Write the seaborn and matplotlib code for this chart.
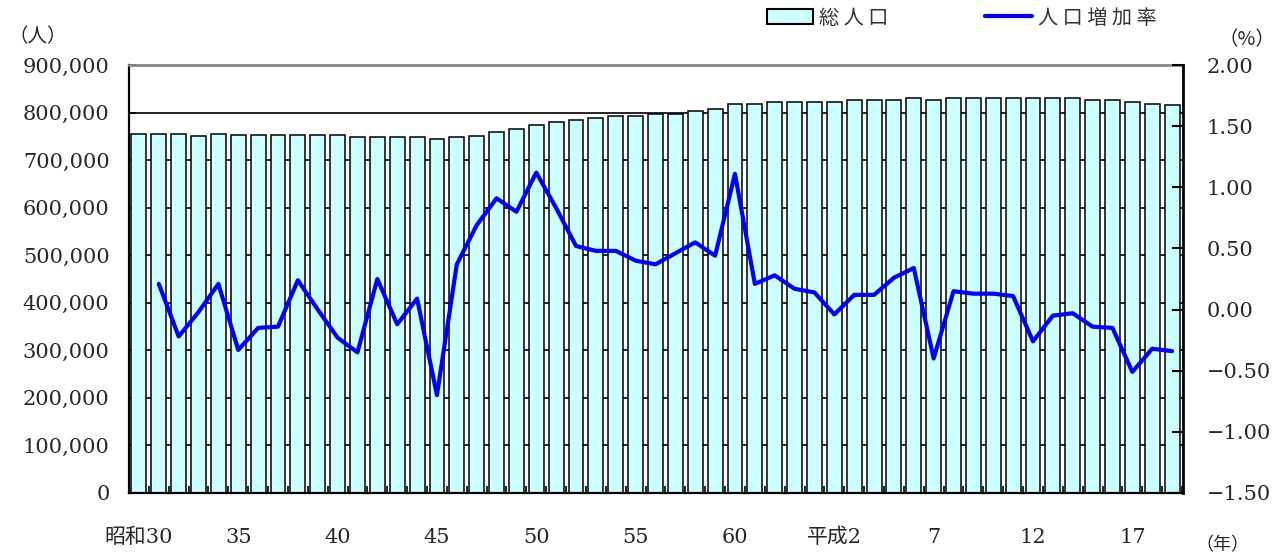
import numpy as np
import pandas as pd
import matplotlib
matplotlib.use("Agg")
import matplotlib.pyplot as plt
import seaborn as sns
from matplotlib.patches import Patch
from matplotlib.lines import Line2D
from matplotlib.ticker import FuncFormatter

# 年次（昭和30年〜平成19年）
years = [f"昭和{n}" for n in range(30, 64)] + [f"平成{n}" for n in range(1, 20)]

# 総人口（人）
population = [
    755000, 755000, 755000, 751000, 755000, 752000, 752000, 752000, 752000,
    752000, 752000, 749000, 749000, 749000, 749000, 745000, 749000, 751000,
    759000, 766000, 773000, 781000, 785000, 789000, 792000, 792000, 796000,
    798000, 803000, 807000, 817000, 817000, 822000, 822000, 822000, 822000,
    827000, 827000, 827000, 830000, 827000, 830000, 830000, 830000, 830000,
    830000, 830000, 830000, 827000, 827000, 823000, 819000, 815000,
]

# 人口増加率（％、昭和31年から）
growth_rate = [
    0.21, -0.22, -0.02, 0.21, -0.33, -0.15, -0.14, 0.24, 0.00, -0.23,
    -0.35, 0.25, -0.12, 0.09, -0.70, 0.37, 0.69, 0.91, 0.80, 1.12,
    0.83, 0.52, 0.48, 0.48, 0.40, 0.37, 0.46, 0.55, 0.44, 1.11,
    0.21, 0.28, 0.17, 0.14, -0.04, 0.12, 0.12, 0.26, 0.34, -0.40,
    0.15, 0.13, 0.13, 0.11, -0.26, -0.05, -0.03, -0.14, -0.15, -0.51,
    -0.32, -0.34,
]

tick_years = ["昭和30", "昭和35", "昭和40", "昭和45", "昭和50", "昭和55",
              "昭和60", "平成2", "平成7", "平成12", "平成17"]
tick_labels = ["昭和30", "35", "40", "45", "50", "55", "60", "平成2", "7", "12", "17"]

df_pop = pd.DataFrame({"pos": range(len(years)), "pop": population})
df_rate = pd.DataFrame({"pos": [years.index(y) for y in years[1:]], "rate": growth_rate})

sns.set_style("white")
plt.rcParams["font.family"] = ["DejaVu Serif", "Noto Sans CJK JP"]
plt.rcParams["axes.unicode_minus"] = True

W, H = 1278, 556
fig = plt.figure(figsize=(W / 100, H / 100), dpi=100)
L, R, T, B = 129, 1183, 65, 493
ax = fig.add_axes([L / W, 1 - B / H, (R - L) / W, (B - T) / H])

# 総人口の棒グラフ（左軸）
bar_color = "#CCFFFF"
sns.barplot(data=df_pop, x="pos", y="pop", ax=ax, color=bar_color, saturation=1,
            edgecolor="black", linewidth=1.1, width=0.75)

ax.set_xlim(-0.45, len(years) - 0.45)
ax.set_ylim(0, 900000)
ax.set_yticks(np.arange(0, 900001, 100000))
ax.yaxis.set_major_formatter(FuncFormatter(lambda v, p: f"{int(v):,}"))
ax.set_axisbelow(True)
ax.yaxis.grid(True, color="black", linewidth=1.2)
ax.xaxis.grid(False)

ax.set_xticks([years.index(y) for y in tick_years])
ax.set_xticklabels(tick_labels)
ax.set_xticks(np.arange(-0.5, len(years), 1.0), minor=True)
ax.tick_params(axis="x", which="major", length=0, labelsize=15, pad=25)
ax.tick_params(axis="x", which="minor", direction="in", length=5, width=1.2,
               color="black", bottom=True)
ax.tick_params(axis="y", direction="in", length=5, width=1.2, labelsize=15,
               pad=14, left=True, color="black")
ax.set_xlabel("")
ax.set_ylabel("")

for side in ["left", "bottom"]:
    ax.spines[side].set_color("black")
    ax.spines[side].set_linewidth(1.6)
ax.spines["top"].set_color("#888888")
ax.spines["top"].set_linewidth(2)
ax.spines["right"].set_visible(False)

# 人口増加率の折れ線（右軸）
ax2 = ax.twinx()
sns.lineplot(data=df_rate, x="pos", y="rate", ax=ax2, color="#0000FF",
             linewidth=3, legend=False)
ax2.set_ylim(-1.5, 2.0)
ax2.set_yticks(np.arange(-1.5, 2.01, 0.5))
ax2.yaxis.set_major_formatter(FuncFormatter(lambda v, p: f"{v:.2f}".replace("-", "\u2212")))
ax2.tick_params(axis="y", direction="in", length=8, width=1.5, labelsize=15,
                pad=17, right=True, color="black")
ax2.set_xlim(ax.get_xlim())
ax2.set_ylabel("")
ax2.set_xlabel("")
for side in ["left", "top", "bottom"]:
    ax2.spines[side].set_visible(False)
ax2.spines["right"].set_color("black")
ax2.spines["right"].set_linewidth(2)

# 単位の表記
jp = ["Noto Sans CJK JP", "DejaVu Sans"]
fig.text(8 / W, 1 - 37 / H, "（人）", fontsize=14, family=jp, va="center", ha="left")
fig.text(1 - 3 / W, 1 - 40 / H, "（%）", fontsize=14, family=jp, va="center", ha="right")
fig.text(1195 / W, 1 - 545 / H, "（年）", fontsize=13, family=jp, va="center", ha="left")

# 凡例
handles = [
    Patch(facecolor=bar_color, edgecolor="black", linewidth=1.5, label="総 人 口"),
    Line2D([0], [0], color="#0000FF", linewidth=3, label="人 口 増 加 率"),
]
fig.legend(handles=handles, loc="center left", bbox_to_anchor=(767 / W, 1 - 18 / H),
           ncol=2, frameon=False, borderpad=0, borderaxespad=0,
           handlelength=2.3, handletextpad=0.3, columnspacing=4.8,
           prop={"family": jp, "size": 14.5}, labelcolor="#333333")

fig.savefig("out.png", dpi=100)
